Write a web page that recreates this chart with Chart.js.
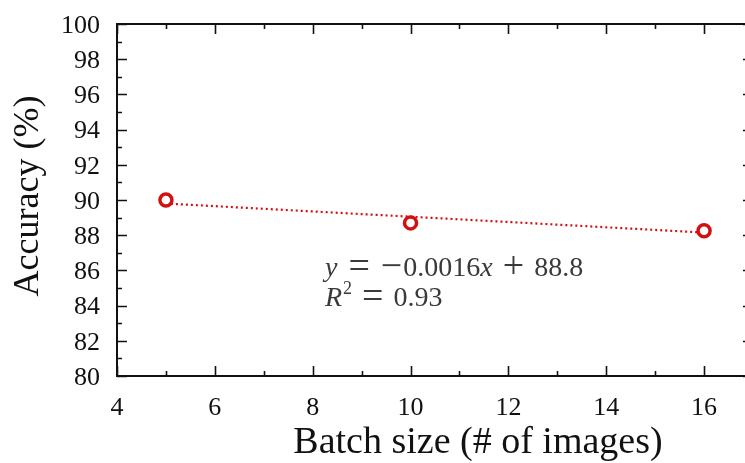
<!DOCTYPE html>
<html><head><meta charset="utf-8">
<script src="https://cdn.jsdelivr.net/npm/chart.js@4"></script>
<style>html,body{margin:0;padding:0;overflow:hidden;background:#fff;width:745px;height:463px}canvas{display:block}</style>
</head><body>
<canvas id="c" width="800" height="463"></canvas>
<script>
const batchSizes = [5, 10, 16];
const accuracy = [90.0, 88.7, 88.25];
const trendX = [5, 16];
const trendY = [89.8, 88.15];
const xTickValues = [4, 6, 8, 10, 12, 14, 16];
const yTickValues = [80, 82, 84, 86, 88, 90, 92, 94, 96, 98, 100];
const slopeText = "0.0016";
const interceptText = "88.8";
const r2Text = "0.93";
const xTitle = 'Batch size (# of images)';
const yTitle = 'Accuracy (%)';

const RED = '#d40f0f';
const serif = '"Liberation Serif", "Times New Roman", serif';

const framePlugin = {
  id: 'frame',
  afterDraw(chart) {
    const ctx = chart.ctx, a = chart.chartArea;
    const xs = chart.scales.x, ys = chart.scales.y;
    ctx.save();
    ctx.strokeStyle = '#111';
    ctx.lineWidth = 1.6;
    for (let v = 4; v <= 17; v++) {
      const px = Math.round(xs.getPixelForValue(v)) + 0.5;
      const len = (v % 2 === 0) ? 10 : 5;
      ctx.beginPath();
      ctx.moveTo(px, a.bottom); ctx.lineTo(px, a.bottom - len);
      ctx.moveTo(px, a.top); ctx.lineTo(px, a.top + len);
      ctx.stroke();
    }
    for (let v = 80; v <= 100; v++) {
      const py = Math.round(ys.getPixelForValue(v)) + 0.5;
      const len = (v % 2 === 0) ? 10 : 5;
      ctx.beginPath();
      ctx.moveTo(a.left, py); ctx.lineTo(a.left + len, py);
      ctx.moveTo(a.right, py); ctx.lineTo(a.right - len, py);
      ctx.stroke();
    }
    ctx.lineWidth = 2;
    ctx.strokeRect(a.left, a.top, a.right - a.left, a.bottom - a.top);

    // axis titles
    ctx.fillStyle = '#111';
    ctx.textAlign = 'center';
    ctx.textBaseline = 'alphabetic';
    ctx.font = '38px ' + serif;
    ctx.fillText(xTitle, 478, 453);
    ctx.save();
    ctx.translate(38, 196);
    ctx.rotate(-Math.PI / 2);
    ctx.font = '36px ' + serif;
    ctx.fillText(yTitle, 0, 0);
    ctx.restore();

    // equation annotation (LaTeX-like spacing)
    ctx.textAlign = 'left';
    ctx.fillStyle = '#3a3a3a';
    const fs = 28, ops = 38;
    let x = 325, y = 276;
    const seg = (t, it, size, dy) => {
      ctx.font = (it ? 'italic ' : '') + (size || fs) + 'px ' + serif;
      ctx.fillText(t, x, y + (dy || 0));
      x += ctx.measureText(t).width;
    };
    const gap = g => { x += g; };
    seg('y', true); gap(11); seg('=', false, ops, 2); gap(11);
    seg('\u2212', false, ops, 2); gap(1); seg(slopeText, false); seg('x', true);
    gap(10); seg('+', false, ops, 2); gap(10); seg(interceptText, false);
    x = 325; y = 306;
    seg('R', true); gap(1);
    seg('2', false, 18, -12); gap(10);
    seg('=', false, ops, 2); gap(10); seg(r2Text, false);
    ctx.restore();
  }
};

new Chart(document.getElementById('c'), {
  type: 'scatter',
  data: {
    datasets: [
      {
        data: batchSizes.map((b, i) => ({x: b, y: accuracy[i]})),
        borderColor: RED, backgroundColor: '#fff',
        pointRadius: 6, pointBorderWidth: 3.5, showLine: false, order: 1
      },
      {
        data: trendX.map((b, i) => ({x: b, y: trendY[i]})),
        borderColor: RED, borderWidth: 2.2, borderDash: [2, 3],
        pointRadius: 0, showLine: true, fill: false, order: 2
      }
    ]
  },
  options: {
    responsive: false, animation: false,
    layout: {padding: {top: 24, right: 47, left: 0, bottom: 0}},
    plugins: {legend: {display: false}, tooltip: {enabled: false}},
    scales: {
      x: {
        type: 'linear', min: 4, max: 17,
        afterBuildTicks: s => { s.ticks = xTickValues.map(v => ({value: v})); },
        ticks: {font: {family: serif, size: 26}, color: '#111', padding: 17, maxRotation: 0},
        grid: {display: false, drawTicks: false},
        border: {display: false},
        afterFit: s => { s.height = 463 - 376; s.paddingLeft = 0; s.paddingRight = 0; }
      },
      y: {
        min: 80, max: 100,
        afterBuildTicks: s => { s.ticks = yTickValues.map(v => ({value: v})); },
        ticks: {font: {family: serif, size: 26}, color: '#111', padding: 17, labelOffset: 2},
        grid: {display: false, drawTicks: false},
        border: {display: false},
        afterFit: s => { s.width = 117; s.paddingTop = 0; s.paddingBottom = 0; }
      }
    }
  },
  plugins: [framePlugin]
});
</script>
</body></html>
